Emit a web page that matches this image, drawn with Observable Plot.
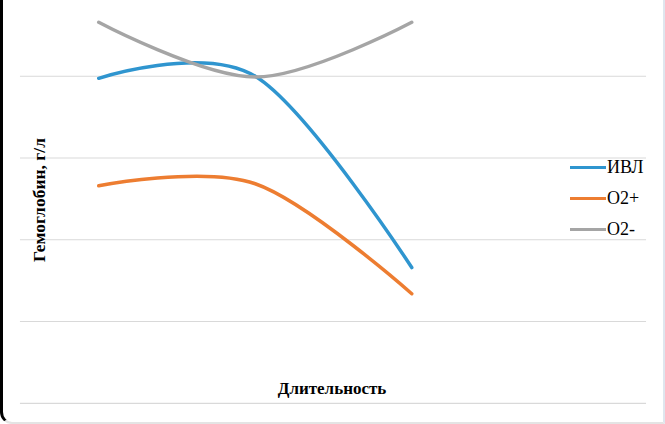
<!DOCTYPE html>
<html>
<head>
<meta charset="utf-8">
<script src="https://cdn.jsdelivr.net/npm/d3@7"></script>
<script src="https://cdn.jsdelivr.net/npm/@observablehq/plot@0.6"></script>
<style>
  html, body { margin: 0; padding: 0; background: #fff; }
  #wrap {
    position: relative; width: 665px; height: 424px; box-sizing: border-box;
    border-left: 3px solid #000; border-right: 2px solid #dfe6ee; border-bottom: 2px solid #e4e4e4;
    border-bottom-left-radius: 12px; overflow: hidden;
  }
  .t { font-family: "Liberation Serif", "Times New Roman", "DejaVu Serif", serif; color: #000; }
  #chart { position: absolute; left: -3px; top: 0; }
  .ytitle {
    position: absolute; left: 36px; top: 200px; transform: translate(-50%, -50%) rotate(-90deg);
    font-weight: bold; font-size: 17.5px; white-space: nowrap;
  }
  .xtitle {
    position: absolute; left: 329px; top: 379px; transform: translateX(-50%);
    font-weight: bold; font-size: 17px; white-space: nowrap;
  }
  .legend { position: absolute; left: 567px; top: 152px; }
  .legend div { display: flex; align-items: center; height: 31px; font-size: 18px; }
  .legend span.sw { display: inline-block; width: 36px; height: 3.5px; margin-right: 1px; }
</style>
</head>
<body>
<div id="wrap">
  <div id="chart"></div>
  <div class="ytitle t">Гемоглобин, г/л</div>
  <div class="xtitle t">Длительность</div>
  <div class="legend t" id="legend"></div>
</div>
<script>
const categories = [1, 2, 3];
const series = ["ИВЛ", "O2+", "O2-"];
const ivl = [139.5, 140, 93.2];
const o2plus = [113.2, 113.7, 86.8];
const o2minus = [153.2, 139.8, 153.2];
const yTicks = [60, 80, 100, 120, 140];
const colors = ["#2f95cf", "#ed7d31", "#a5a5a5"];

const values = [ivl, o2plus, o2minus];
const data = [];
series.forEach((s, i) => categories.forEach((c, j) => data.push({series: s, x: c, y: values[i][j]})));

const chart = Plot.plot({
  width: 665, height: 424,
  marginLeft: 20, marginRight: 17, marginTop: 76, marginBottom: 20,
  x: {domain: [0.5, 4.5], axis: null},
  y: {domain: [60, 140], axis: null},
  color: {domain: series, range: colors},
  marks: [
    Plot.ruleY(yTicks, {stroke: "#d9d9d9", strokeWidth: 1.2}),
    Plot.line(data, {x: "x", y: "y", z: "series", stroke: "series", strokeWidth: 3.5, curve: "cardinal"})
  ]
});
document.getElementById("chart").appendChild(chart);

const leg = document.getElementById("legend");
series.forEach((s, i) => {
  const row = document.createElement("div");
  row.innerHTML = `<span class="sw" style="background:${colors[i]}"></span>${s}`;
  leg.appendChild(row);
});
</script>
</body>
</html>
